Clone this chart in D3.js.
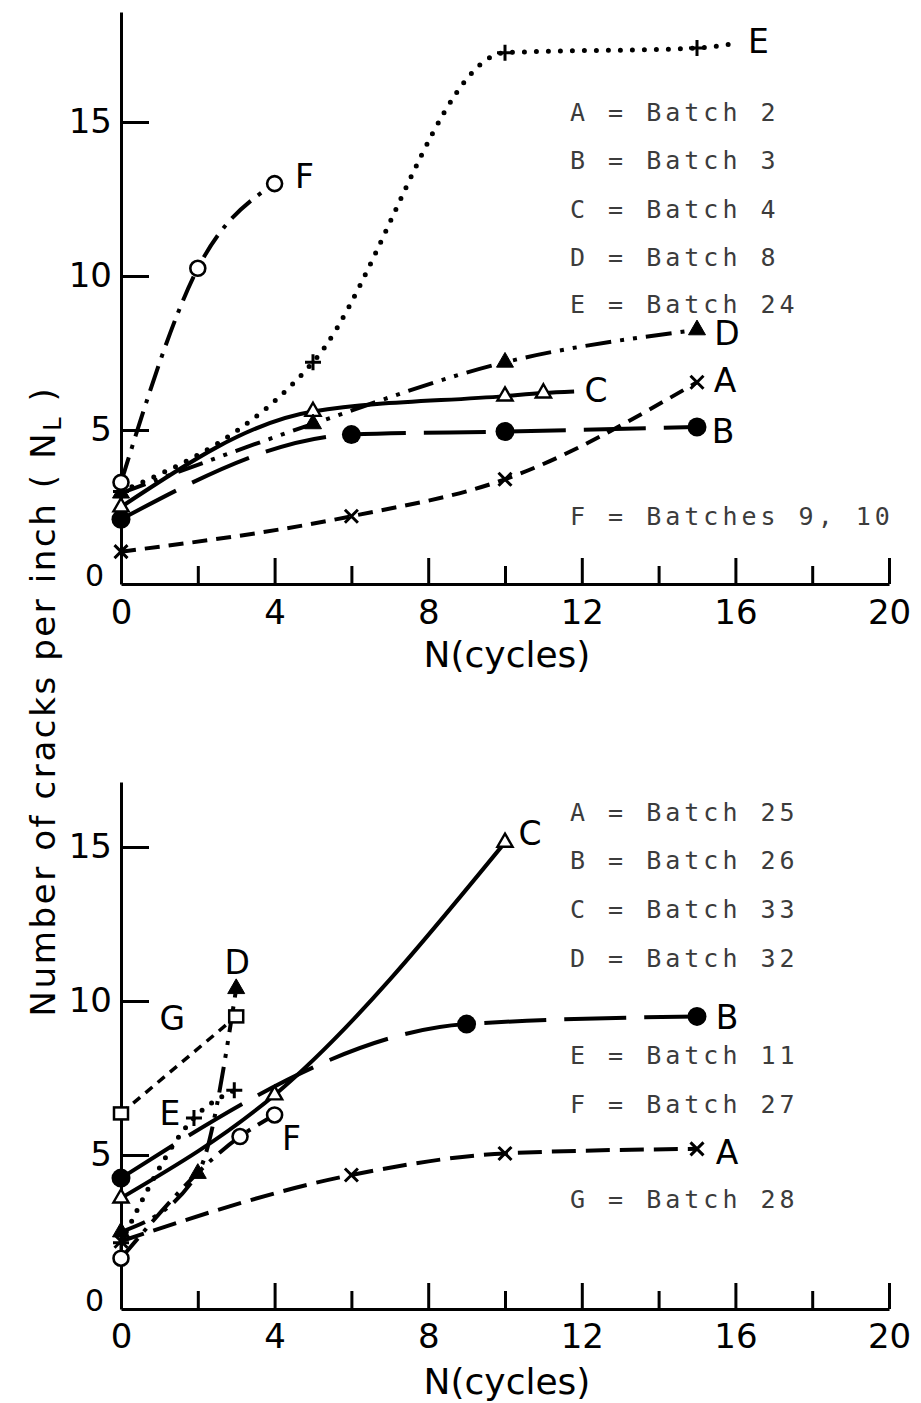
<!DOCTYPE html>
<html>
<head>
<meta charset="utf-8">
<script src="https://cdn.jsdelivr.net/npm/d3@7"></script>
<style>
body { margin: 0; background: #fff; }
svg { display: block; }
</style>
</head>
<body>
<svg id="chart" width="921" height="1403"></svg>
<script>
// values
var xMajor = [0, 4, 8, 12, 16, 20];
var xMinor = [2, 6, 10, 14, 18];
var yTicks = [0, 5, 10, 15];

// upper panel: [cycles, cracks per inch]
var upA = [[0, 1.05], [6, 2.2], [10, 3.4], [15, 6.55]];
var upB = [[0, 2.1], [6, 4.85], [10, 4.95], [15, 5.1]];
var upC = [[0, 2.5], [5, 5.6], [10, 6.1], [11, 6.2]];
var upD = [[0, 2.95], [5, 5.2], [10, 7.2], [15, 8.25]];
var upE = [[0, 3.0], [5, 7.2], [10, 17.25], [15, 17.4]];
var upF = [[0, 3.3], [2, 10.25], [4, 13.0]];
var upCTail = [11.8, 6.25];   // faired line runs on past last point
var upETail = [16, 17.55];
var upLegend = ["A = Batch 2", "B = Batch 3", "C = Batch 4", "D = Batch 8", "E = Batch 24", "F = Batches 9, 10"];

// lower panel
var lowA = [[0, 2.2], [6, 4.35], [10, 5.05], [15, 5.2]];
var lowB = [[0, 4.25], [9, 9.25], [15, 9.5]];
var lowC = [[0, 3.6], [4, 6.95], [10, 15.15]];
var lowD = [[0, 2.5], [2, 4.4], [3, 10.4]];
var lowE = [[0, 2.15], [1.9, 6.2], [2.95, 7.1]];
var lowF = [[0, 1.65], [3.1, 5.6], [4, 6.3]];
var lowG = [[0, 6.35], [3, 9.5]];
var lowLegend = ["A = Batch 25", "B = Batch 26", "C = Batch 33", "D = Batch 32", "E = Batch 11", "F = Batch 27", "G = Batch 28"];

var svg = d3.select("#chart");
var FONT = "DejaVu Sans, sans-serif";
var MONO = "DejaVu Sans Mono, monospace";
var PX_PER_UNIT = 30.8;

/* line styles */
var styles = {
  A: {dash: "15 9", w: 4},
  A2: {dash: "24 10", w: 4},
  B: {dash: "62 18", w: 4},
  C: {dash: null, w: 4},
  D: {dash: "26 9 4 9 4 9", w: 4},
  E: {dash: "0 12", w: 5, cap: "round"},
  F: {dash: "26 9 4 9", w: 4},
  G: {dash: "9 7", w: 3.5}
};

function drawMarker(g, type, cx, cy) {
  if (type == "x") {
    g.append("path")
      .attr("d", "M" + (cx - 6.5) + "," + (cy - 6.5) + "L" + (cx + 6.5) + "," + (cy + 6.5) +
                 "M" + (cx - 6.5) + "," + (cy + 6.5) + "L" + (cx + 6.5) + "," + (cy - 6.5))
      .attr("stroke", "#000").attr("stroke-width", 3).attr("fill", "none");
  } else if (type == "plus") {
    g.append("path")
      .attr("d", "M" + (cx - 8) + "," + cy + "H" + (cx + 8) + "M" + cx + "," + (cy - 8) + "V" + (cy + 8))
      .attr("stroke", "#000").attr("stroke-width", 3).attr("fill", "none");
  } else if (type == "dot") {
    g.append("circle").attr("cx", cx).attr("cy", cy).attr("r", 9.5).attr("fill", "#000");
  } else if (type == "ring") {
    g.append("circle").attr("cx", cx).attr("cy", cy).attr("r", 7.5)
      .attr("fill", "#fff").attr("stroke", "#000").attr("stroke-width", 2.6);
  } else if (type == "triOpen" || type == "triFill") {
    g.append("path")
      .attr("d", d3.symbol(d3.symbolTriangle, type == "triFill" ? 125 : 100)())
      .attr("transform", "translate(" + cx + "," + cy + ")")
      .attr("fill", type == "triFill" ? "#000" : "#fff")
      .attr("stroke", "#000").attr("stroke-width", type == "triFill" ? 1 : 2.4);
  } else if (type == "square") {
    g.append("rect").attr("x", cx - 7).attr("y", cy - 6).attr("width", 14).attr("height", 12)
      .attr("fill", "#fff").attr("stroke", "#000").attr("stroke-width", 2.5);
  }
}

function drawPanel(p) {
  var g = svg.append("g");
  var x = d3.scaleLinear().domain([0, 20]).range([121, 889]);
  var y = d3.scaleLinear()
    .domain([0, (p.yZero - p.yTop) / PX_PER_UNIT])
    .range([p.yZero, p.yTop]);

  // x axis, major and minor ticks pointing up
  g.append("g").attr("transform", "translate(0," + p.yZero + ")")
    .call(d3.axisBottom(x).tickValues(xMajor).tickSize(-26).tickSizeOuter(0).tickPadding(p.xPad));
  g.append("g").attr("transform", "translate(0," + p.yZero + ")")
    .call(d3.axisBottom(x).tickValues(xMinor).tickSize(-18).tickFormat("").tickSizeOuter(0))
    .select(".domain").remove();

  var ya = g.append("g").attr("transform", "translate(121,0)")
    .call(d3.axisLeft(y).tickValues(yTicks).tickSize(-28).tickSizeOuter(0).tickPadding(9));

  g.selectAll(".domain, .tick line").attr("stroke", "#000").attr("stroke-width", 3);
  g.selectAll(".tick text").attr("font-family", FONT).attr("font-size", 34).attr("fill", "#000");
  ya.selectAll(".tick").filter(function(d) { return d == 0; }).select("line").remove();
  ya.selectAll(".tick").filter(function(d) { return d == 0; }).select("text")
    .attr("font-size", 30).attr("dx", -8).attr("dy", "0.05em");

  g.append("text").attr("x", 507).attr("y", p.titleY)
    .attr("text-anchor", "middle").attr("font-family", FONT).attr("font-size", 36)
    .text("N(cycles)");

  // legend
  p.legend.forEach(function(t, i) {
    g.append("text").attr("x", 570).attr("y", p.legendY[i] + 9)
      .attr("font-family", MONO).attr("font-size", 25).attr("letter-spacing", 4)
      .attr("fill", "#3c3c3c").attr("xml:space", "preserve").text(t);
  });

  var line = d3.line().x(function(d) { return x(d[0]); }).y(function(d) { return y(d[1]); })
    .curve(d3.curveMonotoneX);

  p.series.forEach(function(s) {
    var st = styles[s.style];
    var pts = s.tail ? s.pts.concat([s.tail]) : s.pts;
    g.append("path").attr("d", line(pts)).attr("fill", "none")
      .attr("stroke", "#000").attr("stroke-width", st.w)
      .attr("stroke-dasharray", st.dash)
      .attr("stroke-linecap", st.cap || "butt");
  });
  p.series.forEach(function(s) {
    s.pts.forEach(function(d) { drawMarker(g, s.marker, x(d[0]), y(d[1])); });
    var a = s.lab.at == "tail" ? s.tail : s.pts[s.lab.at];
    g.append("text").attr("x", x(a[0]) + s.lab.dx).attr("y", y(a[1]) + s.lab.dy)
      .attr("dy", "0.36em").attr("text-anchor", "middle")
      .attr("font-family", FONT).attr("font-size", 33).text(s.name);
  });
}

drawPanel({
  yZero: 584, yTop: 12, xPad: 16, titleY: 667,
  legend: upLegend, legendY: [112, 160, 209, 257, 304, 516],
  series: [
    {name: "A", pts: upA, marker: "x", style: "A", lab: {at: 3, dx: 28, dy: -2}},
    {name: "B", pts: upB, marker: "dot", style: "B", lab: {at: 3, dx: 26, dy: 4}},
    {name: "C", pts: upC, tail: upCTail, marker: "triOpen", style: "C", lab: {at: "tail", dx: 22, dy: -1}},
    {name: "D", pts: upD, marker: "triFill", style: "D", lab: {at: 3, dx: 30, dy: 3}},
    {name: "E", pts: upE, tail: upETail, marker: "plus", style: "E", lab: {at: "tail", dx: 23, dy: -2}},
    {name: "F", pts: upF, marker: "ring", style: "F", lab: {at: 2, dx: 30, dy: -7}}
  ]
});

drawPanel({
  yZero: 1309, yTop: 782, xPad: 15, titleY: 1394,
  legend: lowLegend, legendY: [812, 860, 909, 958, 1055, 1104, 1199],
  series: [
    {name: "A", pts: lowA, marker: "x", style: "A2", lab: {at: 3, dx: 30, dy: 3}},
    {name: "B", pts: lowB, marker: "dot", style: "B", lab: {at: 2, dx: 30, dy: 1}},
    {name: "C", pts: lowC, marker: "triOpen", style: "C", lab: {at: 2, dx: 25, dy: -9}},
    {name: "G", pts: lowG, marker: "square", style: "G", lab: {at: 1, dx: -64, dy: 2}},
    {name: "E", pts: lowE, marker: "plus", style: "E", lab: {at: 1, dx: -24, dy: -5}},
    {name: "F", pts: lowF, marker: "ring", style: "F", lab: {at: 2, dx: 17, dy: 23}},
    {name: "D", pts: lowD, marker: "triFill", style: "D", lab: {at: 2, dx: 1, dy: -27}}
  ]
});

// shared y label
var yl = svg.append("text").attr("transform", "translate(55,701) rotate(-90)")
  .attr("text-anchor", "middle").attr("font-family", FONT).attr("font-size", 34)
  .attr("letter-spacing", 2.6).attr("xml:space", "preserve");
yl.append("tspan").text("Number of cracks per inch ( N");
yl.append("tspan").attr("font-size", 24).attr("dy", 6).text("L");
yl.append("tspan").attr("dy", -6).text(" )");
</script>
</body>
</html>
